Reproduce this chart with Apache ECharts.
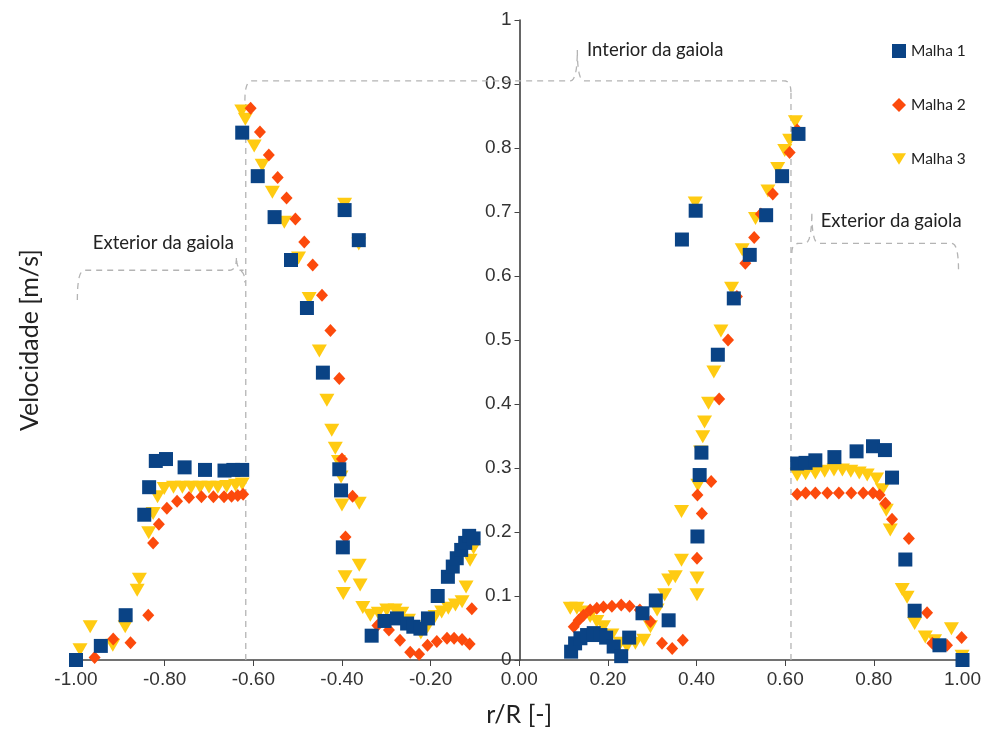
<!DOCTYPE html>
<html>
<head>
<meta charset="utf-8">
<script src="https://cdn.jsdelivr.net/npm/echarts@6/dist/echarts.min.js"></script>
<style>
  html, body { margin: 0; padding: 0; background: #fff; }
  #chart { width: 984px; height: 735px; }
</style>
</head>
<body>
<div id="chart"></div>
<script>
// Radial velocity profiles [r/R, m/s] for three mesh refinements
const malha1 = [
  [-1.000, 0.000], [-0.944, 0.022], [-0.888, 0.070], [-0.846, 0.227], [-0.835, 0.270],
  [-0.820, 0.311], [-0.797, 0.314], [-0.755, 0.301], [-0.709, 0.297], [-0.665, 0.296],
  [-0.645, 0.297], [-0.625, 0.297], [-0.625, 0.824], [-0.590, 0.756], [-0.552, 0.692],
  [-0.515, 0.625], [-0.479, 0.550], [-0.443, 0.449], [-0.394, 0.703], [-0.362, 0.656],
  [-0.406, 0.298], [-0.402, 0.265], [-0.398, 0.176], [-0.333, 0.038], [-0.304, 0.061],
  [-0.276, 0.065], [-0.253, 0.057], [-0.239, 0.052], [-0.223, 0.049], [-0.206, 0.065],
  [-0.184, 0.100], [-0.161, 0.130], [-0.150, 0.146], [-0.141, 0.159], [-0.131, 0.172],
  [-0.122, 0.183], [-0.113, 0.194], [-0.103, 0.190],
  [0.117, 0.013], [0.126, 0.026], [0.138, 0.034], [0.153, 0.039], [0.168, 0.042],
  [0.183, 0.039], [0.196, 0.035], [0.213, 0.021], [0.230, 0.006], [0.248, 0.035],
  [0.278, 0.073], [0.308, 0.093], [0.337, 0.062], [0.367, 0.657], [0.398, 0.702],
  [0.402, 0.193], [0.407, 0.289], [0.411, 0.324], [0.448, 0.477], [0.484, 0.565],
  [0.520, 0.633], [0.557, 0.695], [0.593, 0.756], [0.630, 0.822], [0.627, 0.307],
  [0.646, 0.308], [0.668, 0.312], [0.711, 0.317], [0.761, 0.326], [0.798, 0.334],
  [0.825, 0.328], [0.841, 0.285], [0.871, 0.157], [0.892, 0.077], [0.948, 0.023],
  [1.000, 0.000]
];
const malha2 = [
  [-0.958, 0.004], [-0.916, 0.033], [-0.877, 0.027], [-0.837, 0.070], [-0.826, 0.183],
  [-0.813, 0.212], [-0.795, 0.237], [-0.772, 0.248], [-0.745, 0.254], [-0.717, 0.255],
  [-0.690, 0.255], [-0.666, 0.255], [-0.649, 0.256], [-0.635, 0.257], [-0.623, 0.259],
  [-0.606, 0.862], [-0.585, 0.825], [-0.565, 0.789], [-0.545, 0.754], [-0.525, 0.722],
  [-0.505, 0.689], [-0.485, 0.653], [-0.466, 0.617], [-0.445, 0.570], [-0.426, 0.515],
  [-0.406, 0.440], [-0.400, 0.314], [-0.376, 0.256], [-0.392, 0.192], [-0.320, 0.054],
  [-0.294, 0.047], [-0.269, 0.031], [-0.246, 0.012], [-0.226, 0.009], [-0.207, 0.023],
  [-0.186, 0.029], [-0.163, 0.034], [-0.147, 0.034], [-0.129, 0.032], [-0.112, 0.025],
  [-0.107, 0.080],
  [0.123, 0.052], [0.134, 0.062], [0.145, 0.070], [0.160, 0.078], [0.175, 0.081],
  [0.190, 0.083], [0.209, 0.084], [0.230, 0.086], [0.249, 0.084], [0.272, 0.078],
  [0.296, 0.060], [0.322, 0.026], [0.345, 0.018], [0.369, 0.031], [0.401, 0.159],
  [0.412, 0.229], [0.402, 0.258], [0.433, 0.279], [0.451, 0.408], [0.471, 0.500],
  [0.491, 0.568], [0.510, 0.620], [0.530, 0.660], [0.545, 0.697], [0.572, 0.728],
  [0.610, 0.793], [0.627, 0.828], [0.627, 0.259], [0.646, 0.261], [0.668, 0.261],
  [0.695, 0.261], [0.721, 0.261], [0.749, 0.261], [0.776, 0.261], [0.798, 0.261],
  [0.813, 0.258], [0.826, 0.245], [0.841, 0.220], [0.879, 0.190], [0.920, 0.074],
  [0.932, 0.026], [0.965, 0.023], [0.998, 0.035]
];
const malha3 = [
  [-0.991, 0.016], [-0.968, 0.052], [-0.917, 0.023], [-0.889, 0.052], [-0.862, 0.109],
  [-0.857, 0.126], [-0.836, 0.199], [-0.826, 0.229], [-0.816, 0.255], [-0.801, 0.268],
  [-0.780, 0.270], [-0.760, 0.270], [-0.740, 0.270], [-0.720, 0.270], [-0.700, 0.270],
  [-0.680, 0.270], [-0.660, 0.271], [-0.640, 0.273], [-0.625, 0.275], [-0.626, 0.858],
  [-0.618, 0.845], [-0.598, 0.803], [-0.580, 0.773], [-0.557, 0.731], [-0.530, 0.684],
  [-0.498, 0.628], [-0.474, 0.565], [-0.451, 0.483], [-0.434, 0.406], [-0.423, 0.359],
  [-0.415, 0.331], [-0.408, 0.310], [-0.402, 0.286], [-0.400, 0.242], [-0.394, 0.712],
  [-0.362, 0.650], [-0.361, 0.245], [-0.393, 0.130], [-0.397, 0.104], [-0.361, 0.148],
  [-0.359, 0.117], [-0.353, 0.082], [-0.336, 0.070], [-0.318, 0.073], [-0.299, 0.078],
  [-0.280, 0.078], [-0.265, 0.073], [-0.250, 0.062], [-0.235, 0.049], [-0.222, 0.042],
  [-0.207, 0.052], [-0.190, 0.068], [-0.175, 0.075], [-0.160, 0.081], [-0.144, 0.086],
  [-0.129, 0.091], [-0.120, 0.114], [-0.111, 0.156], [-0.103, 0.175],
  [0.115, 0.081], [0.130, 0.081], [0.145, 0.075], [0.160, 0.068], [0.175, 0.060],
  [0.190, 0.052], [0.209, 0.039], [0.228, 0.026], [0.243, 0.021], [0.262, 0.026],
  [0.281, 0.031], [0.296, 0.052], [0.311, 0.078], [0.328, 0.102], [0.337, 0.125],
  [0.352, 0.130], [0.366, 0.156], [0.366, 0.232], [0.401, 0.128], [0.401, 0.102],
  [0.403, 0.273], [0.409, 0.325], [0.414, 0.349], [0.418, 0.372], [0.427, 0.401],
  [0.439, 0.450], [0.455, 0.514], [0.479, 0.581], [0.503, 0.641], [0.533, 0.690],
  [0.561, 0.733], [0.583, 0.768], [0.599, 0.796], [0.610, 0.812], [0.623, 0.841],
  [0.397, 0.714], [0.627, 0.289], [0.646, 0.291], [0.668, 0.292], [0.689, 0.295],
  [0.710, 0.297], [0.729, 0.297], [0.748, 0.295], [0.767, 0.292], [0.785, 0.289],
  [0.806, 0.283], [0.819, 0.266], [0.828, 0.234], [0.837, 0.203], [0.864, 0.110],
  [0.875, 0.098], [0.892, 0.057], [0.916, 0.036], [0.937, 0.030], [0.975, 0.049],
  [0.999, 0.006]
];

const seriesNames = ['Malha 1', 'Malha 2', 'Malha 3'];

// Cage boundary and region labels (data coordinates)
const cageEdges = [[-0.617, 0.875], [0.613, 0.886]];
const braces = [
  { xa: -0.997, ya: 0.5625, yl: 0.609, xt: -0.638, yt: 0.630, xb: -0.619, yb: 0.59 },
  { xa: -0.619, ya: 0.874, yl: 0.905, xt: 0.131, yt: 0.953, xb: 0.613, yb: 0.886 },
  { xa: 0.615, ya: 0.636, yl: 0.651, xt: 0.660, yt: 0.700, xb: 0.991, yb: 0.609 }
];
const regionLabels = [
  { text: 'Exterior da gaiola', x: -0.962, y: 0.652 },
  { text: 'Interior da gaiola', x: 0.153, y: 0.953 },
  { text: 'Exterior da gaiola', x: 0.680, y: 0.686 }
];

const chart = echarts.init(document.getElementById('chart'), null, { renderer: 'canvas' });

const tickFont = '"Liberation Sans", Arial, sans-serif';
const textFont = 'Lato, "Open Sans", sans-serif';
const gridLeft = 76, gridRight = 21;
const plotWidth = 984 - gridLeft - gridRight;

chart.setOption({
  animation: false,
  backgroundColor: '#ffffff',
  grid: { left: gridLeft, right: gridRight, top: 20, bottom: 75, containLabel: false },
  legend: {
    orient: 'vertical',
    left: 887,
    top: 38,
    itemWidth: 14,
    itemHeight: 14,
    itemGap: 38,
    data: [
      { name: seriesNames[0], icon: 'rect' },
      { name: seriesNames[1], icon: 'diamond' },
      { name: seriesNames[2], icon: 'path://M0,0 L12,0 L6,10 Z' }
    ],
    textStyle: { fontFamily: textFont, fontSize: 15.5, color: '#222' }
  },
  xAxis: {
    type: 'value',
    min: -1,
    max: 1,
    interval: 0.2,
    name: 'r/R [-]',
    nameLocation: 'middle',
    nameGap: 42,
    nameTextStyle: { fontFamily: textFont, fontSize: 25, color: '#222' },
    axisLine: { onZero: false, lineStyle: { color: '#444', width: 1.5 } },
    axisTick: { show: true, length: 6, lineStyle: { color: '#444' } },
    axisLabel: {
      fontFamily: tickFont, fontSize: 19, color: '#333', margin: 10,
      formatter: v => (Math.abs(v) < 1e-9 ? 0 : v).toFixed(2)
    },
    splitLine: { show: false }
  },
  yAxis: {
    type: 'value',
    min: 0,
    max: 1,
    interval: 0.1,
    position: 'left',
    offset: -plotWidth / 2,
    axisLine: { show: true, onZero: false, lineStyle: { color: '#333', width: 1.5 } },
    axisTick: { show: true, length: 5, lineStyle: { color: '#444' } },
    axisLabel: {
      fontFamily: tickFont, fontSize: 19, color: '#333', margin: 8,
      formatter: v => (v === 0 ? '0' : v === 1 ? '1' : v.toFixed(1))
    },
    splitLine: { show: false }
  },
  series: [
    {
      name: seriesNames[0], type: 'scatter', data: malha1, z: 4,
      symbol: 'rect', symbolSize: 14,
      itemStyle: { color: '#0a4385', opacity: 1 }
    },
    {
      name: seriesNames[1], type: 'scatter', data: malha2, z: 3,
      symbol: 'diamond', symbolSize: [12, 13],
      itemStyle: { color: '#fc4a0c', opacity: 1 }
    },
    {
      name: seriesNames[2], type: 'scatter', data: malha3, z: 2,
      symbol: 'triangle', symbolRotate: 180, symbolSize: [15, 13],
      itemStyle: { color: '#ffcb12', opacity: 1 }
    }
  ]
});

// Dashed cage outline, braces and region captions placed via the grid's coordinate system
function toPx(x, y) { return chart.convertToPixel({ gridIndex: 0 }, [x, y]); }

// sample a quadratic curve p0 -> p2 with control c
function quad(pts, p0, c, p2, n) {
  for (let i = 1; i <= n; i++) {
    const t = i / n, u = 1 - t;
    pts.push([u * u * p0[0] + 2 * u * t * c[0] + t * t * p2[0],
              u * u * p0[1] + 2 * u * t * c[1] + t * t * p2[1]]);
  }
}

function bracePoints(b) {
  const r = 7;
  const A = toPx(b.xa, b.ya), L = toPx(b.xa, b.yl);
  const T = toPx(b.xt, b.yt), TL = toPx(b.xt, b.yl);
  const B = toPx(b.xb, b.yb), BL = toPx(b.xb, b.yl);
  const y = L[1];
  const pts = [A];
  quad(pts, A, [A[0], y], [A[0] + r, y], 8);
  pts.push([TL[0] - r, y]);
  quad(pts, [TL[0] - r, y], [TL[0], y], T, 8);
  quad(pts, T, [TL[0], y], [TL[0] + r, y], 8);
  pts.push([BL[0] - r, y]);
  quad(pts, [BL[0] - r, y], [BL[0], y], B, 8);
  return pts;
}

const dashStyle = { stroke: '#b4b4b4', lineWidth: 1.3, lineDash: [6, 5], fill: null };
const graphics = [];

cageEdges.forEach(e => {
  const p0 = toPx(e[0], 0), p1 = toPx(e[0], e[1]);
  graphics.push({
    type: 'line', silent: true, z: 1,
    shape: { x1: p0[0], y1: p0[1], x2: p1[0], y2: p1[1] },
    style: dashStyle
  });
});

braces.forEach(b => {
  graphics.push({
    type: 'polyline', silent: true, z: 1,
    shape: { points: bracePoints(b) },
    style: dashStyle
  });
});

regionLabels.forEach(t => {
  const p = toPx(t.x, t.y);
  graphics.push({
    type: 'text', silent: true, z: 5,
    x: p[0], y: p[1],
    style: {
      text: t.text, fill: '#222', font: '18.5px ' + textFont,
      textAlign: 'left', textVerticalAlign: 'middle'
    }
  });
});

graphics.push({
  type: 'text', silent: true, z: 5,
  x: 30, y: 340, rotation: Math.PI / 2,
  style: {
    text: 'Velocidade [m/s]', fill: '#222', font: '25px ' + textFont,
    textAlign: 'center', textVerticalAlign: 'middle'
  }
});

chart.setOption({ graphic: graphics });
</script>
</body>
</html>
